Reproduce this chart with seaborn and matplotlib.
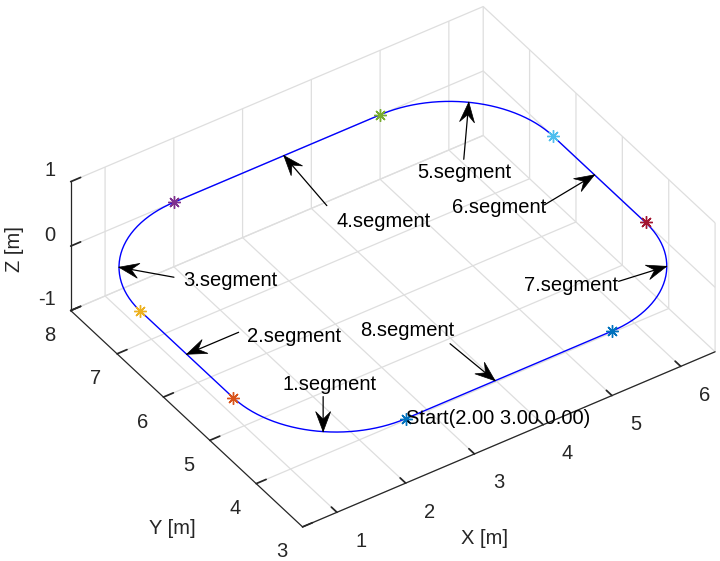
import numpy as np
import matplotlib
matplotlib.use("Agg")
import matplotlib.pyplot as plt
from matplotlib.patches import Polygon
import seaborn as sns
from mpl_toolkits.mplot3d import proj3d

sns.set_theme(style="white")
plt.rcParams["font.family"] = ["Liberation Sans", "DejaVu Sans"]
plt.rcParams["axes.unicode_minus"] = False

# Segment end points of the track (start point first), all at z = 0
node_x = [2.0, 0.5, 0.5, 2.0, 5.0, 6.5, 6.5, 5.0]
node_y = [3.0, 4.5, 6.5, 8.0, 8.0, 6.5, 4.5, 3.0]
node_colors = ["#0072BD", "#D95319", "#EDB120", "#7E2F8E",
               "#77AC30", "#4DBEEE", "#A2142F", "#0072BD"]

# Curved segments 1, 3, 5, 7: circle centres, radius and start/end angles (deg)
arc_cx = [2.0, 2.0, 5.0, 5.0]
arc_cy = [4.5, 6.5, 6.5, 4.5]
arc_start = [-90.0, 180.0, 90.0, 0.0]
arc_end = [-180.0, 90.0, 0.0, -90.0]
arc_radius = 1.5

# Segment annotations: label, point on the track, arrow tail and text offsets (px)
seg_labels = ["1.segment", "2.segment", "3.segment", "4.segment",
              "5.segment", "6.segment", "7.segment", "8.segment"]
tip_x = [1.036, 0.5, 0.756, 3.6, 6.02, 6.5, 6.24, 3.3]
tip_y = [3.351, 5.5, 7.339, 8.0, 7.6, 5.6, 3.66, 3.0]
tail_dx = [0, 52, 55, 43, -5, -50, -48, -45]
tail_dy = [35, 22, -10, -50, -57, -30, -15, 37]
text_dx = [6, 107, 111, 100, -4, -95, -96, -88]
text_dy = [47, 18, -13, -66, -70, -33, -19, 50]

x_ticks = [1, 2, 3, 4, 5, 6]
y_ticks = [3, 4, 5, 6, 7, 8]
z_ticks = [-1, 0, 1]
x_lim = (0.5, 6.5)
y_lim = (3.0, 8.0)
z_lim = (-1.0, 1.0)

# Build the closed track: arc, straight, arc, straight, ...
px, py = [], []
for k in range(4):
    ang = np.deg2rad(np.linspace(arc_start[k], arc_end[k], 60))
    px.extend(arc_cx[k] + arc_radius * np.cos(ang))
    py.extend(arc_cy[k] + arc_radius * np.sin(ang))
px.append(node_x[0])
py.append(node_y[0])
px = np.array(px)
py = np.array(py)
pz = np.zeros_like(px)

fig = plt.figure(figsize=(7.2, 5.61), dpi=100)
ax = fig.add_axes([-0.018, -0.143, 1.1, 1.3], projection="3d", proj_type="ortho")
ax.set_box_aspect((6, 5, 2), zoom=0.89)
ax.view_init(elev=39, azim=-124)

ax.set_xlim(*x_lim)
ax.set_ylim(*y_lim)
ax.set_zlim(*z_lim)
ax.set_xticks(x_ticks)
ax.set_yticks(y_ticks)
ax.set_zticks(z_ticks)
ax.set_xticklabels([])
ax.set_zticklabels([])

axis_col = "#262626"
grid_col = "#DEDEDE"
for axis in (ax.xaxis, ax.yaxis, ax.zaxis):
    axis.set_pane_color((1, 1, 1, 0))
    axis.pane.set_edgecolor(grid_col)
    axis.line.set_color(axis_col)
    axis.line.set_linewidth(0.9)
    axis._axinfo["grid"].update(color=grid_col, linewidth=0.9)
    axis._axinfo["tick"].update(inward_factor=0.0, outward_factor=0.3)
ax.tick_params(labelsize=14.5, colors=axis_col, pad=6)
ax.grid(True)

M = ax.get_proj()

# x and z tick labels, placed next to their ticks on the axis lines
for xt in x_ticks:
    tx2, ty2, _ = proj3d.proj_transform(xt, y_lim[0], z_lim[0], M)
    ax.annotate(f"{xt:g}", xy=(tx2, ty2), xycoords="data",
                xytext=(24, -29), textcoords="offset pixels",
                ha="center", va="center", fontsize=14.5, color=axis_col)
for zt in z_ticks:
    tx2, ty2, _ = proj3d.proj_transform(x_lim[0], y_lim[1], zt, M)
    ax.annotate(f"{zt:g}", xy=(tx2, ty2), xycoords="data",
                xytext=(-15, 11), textcoords="offset pixels",
                ha="right", va="center", fontsize=14.5, color=axis_col)

# Axis titles
fig.text(484 / 720, 1 - 538 / 561, "X [m]", fontsize=14.5, color=axis_col,
         ha="center", va="center")
fig.text(172 / 720, 1 - 529 / 561, "Y [m]", fontsize=14.5, color=axis_col,
         ha="center", va="center")
fig.text(14 / 720, 1 - 249 / 561, "Z [m]", fontsize=14.5, color=axis_col,
         ha="center", va="center", rotation=90)

# Track
ax.plot(px, py, pz, color="blue", linewidth=1.0)

# Segment end markers (asterisks)
for xv, yv, c in zip(node_x, node_y, node_colors):
    ax.plot([xv], [yv], [0.0], marker=(8, 2, 0), markersize=9, color=c,
            markeredgewidth=1.0, linestyle="none")

ax.text(node_x[0], node_y[0], 0.0, "Start(2.00 3.00 0.00)",
        fontsize=14.5, ha="left", va="center", color="black")

# Settle the layout so data -> pixel transforms are final
fig.canvas.draw()

# Annotation arrows pointing at the segments
head_len, head_w, notch = 20.0, 15.0, 0.62
to_fig = fig.transFigure.inverted()
for lab, tx, ty, adx, ady, ldx, ldy in zip(seg_labels, tip_x, tip_y,
                                           tail_dx, tail_dy, text_dx, text_dy):
    x2, y2, _ = proj3d.proj_transform(tx, ty, 0.0, M)
    ax.annotate("", xy=(x2, y2), xycoords="data",
                xytext=(adx, ady), textcoords="offset pixels",
                arrowprops=dict(arrowstyle="-", color="black", lw=0.9,
                                shrinkA=0, shrinkB=0))
    ax.annotate(lab, xy=(x2, y2), xycoords="data",
                xytext=(ldx, ldy), textcoords="offset pixels",
                ha="center", va="center", fontsize=14.5, color="black")
    # swept-back arrow head
    tip = ax.transData.transform((x2, y2))
    d = np.array([-adx, -ady], dtype=float)
    d /= np.hypot(*d)
    n = np.array([-d[1], d[0]])
    back = tip - d * head_len
    verts = np.array([tip, back + n * head_w / 2, tip - d * head_len * notch,
                      back - n * head_w / 2])
    fig.add_artist(Polygon(to_fig.transform(verts), closed=True,
                           transform=fig.transFigure,
                           facecolor="black", edgecolor="black", lw=0.5))

fig.savefig("out.png", dpi=100)
